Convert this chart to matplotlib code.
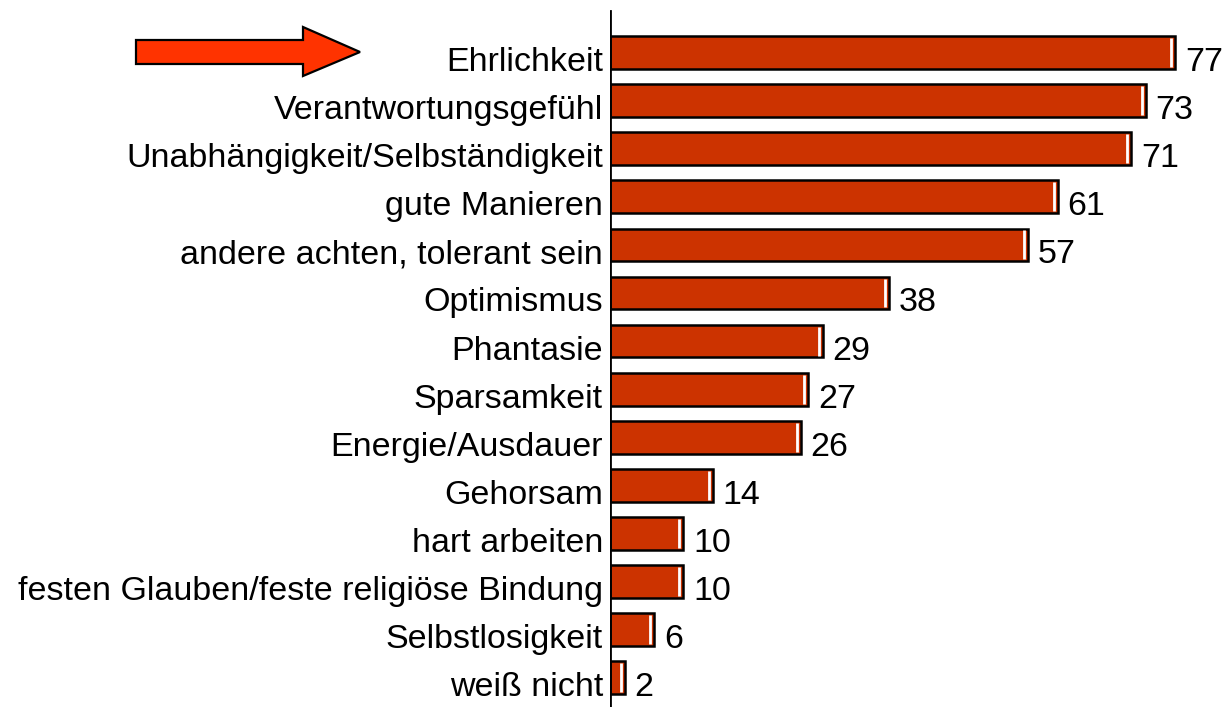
import matplotlib
matplotlib.use('Agg')
import matplotlib.pyplot as plt
from matplotlib.patches import Polygon

'''------DATA------'''
labels = ['Ehrlichkeit', 'Verantwortungsgefühl', 'Unabhängigkeit/Selbständigkeit',
          'gute Manieren', 'andere achten, tolerant sein', 'Optimismus', 'Phantasie',
          'Sparsamkeit', 'Energie/Ausdauer', 'Gehorsam', 'hart arbeiten',
          'festen Glauben/feste religiöse Bindung', 'Selbstlosigkeit', 'weiß nicht']
values = [77, 73, 71, 61, 57, 38, 29, 27, 26, 14, 10, 10, 6, 2]
'''------DATA------'''

plt.rcParams['font.family'] = ['Liberation Sans', 'DejaVu Sans']

W, H = 1227, 707
fig = plt.figure(figsize=(W / 100, H / 100), dpi=100)
ax = fig.add_axes([610 / W, 0, 617 / W, 1])

ypos = list(range(len(values)))
ax.barh(ypos, values, height=0.68, color='#CC3300', edgecolor='black',
        linewidth=1.8, zorder=3)

# white highlight near the right end of each bar
for y, v in zip(ypos, values):
    ax.plot([v - 0.55, v - 0.55], [y - 0.3, y + 0.3], color='white',
            linewidth=2.0, zorder=4, solid_capstyle='butt')
    ax.annotate(str(v), xy=(v, y), xytext=(7, -13.3), textcoords='offset points',
                ha='left', va='baseline', fontsize=24.5, color='black')

for y, lab in zip(ypos, labels):
    ax.annotate(lab, xy=(0, y), xytext=(-5, -13.3), textcoords='offset points',
                ha='right', va='baseline', fontsize=24.5, color='black',
                annotation_clip=False, zorder=1)

ax.set_xlim(0, 617 / 7.34)
ax.set_ylim(13.607, -1.091)
for s in ax.spines.values():
    s.set_visible(False)
ax.set_xticks([])
ax.set_yticks([])
ax.patch.set_alpha(0)
ax.axvline(0, ymin=0, ymax=1 - 11 / H, color='black', linewidth=2.0, zorder=5)

# red arrow pointing to first label
pts = [(136, 40), (303, 40), (303, 27), (360, 52), (303, 76), (303, 64), (136, 64)]
arrow = Polygon([(x / W, 1 - y / H) for x, y in pts], closed=True,
                facecolor='#FF3300', edgecolor='black', linewidth=1.6,
                transform=fig.transFigure)
fig.patches.append(arrow)

fig.savefig('out.png', dpi=100)
